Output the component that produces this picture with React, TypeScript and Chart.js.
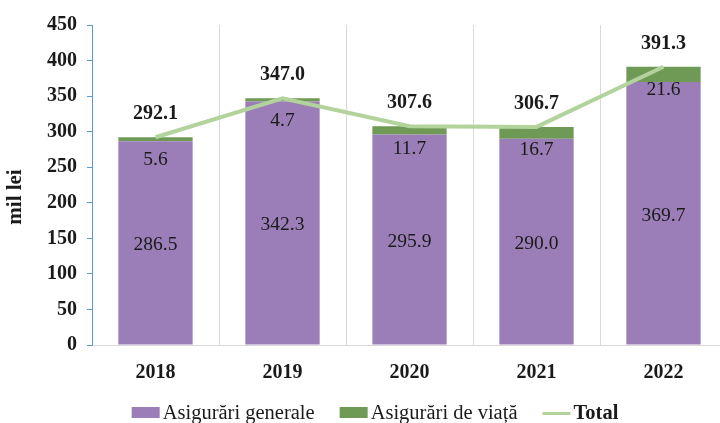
import React, { useEffect, useRef } from "react";
import { Chart, registerables } from "chart.js";

Chart.register(...registerables);

const categories = ["2018", "2019", "2020", "2021", "2022"];
const generalValues = [286.5, 342.3, 295.9, 290.0, 369.7];
const lifeValues = [5.6, 4.7, 11.7, 16.7, 21.6];
const totalValues = [292.1, 347.0, 307.6, 306.7, 391.3];
const seriesNames = ["Asigurări generale", "Asigurări de viață", "Total"];
const yAxisTitle = "mil lei";
const yMax = 450;
const yStep = 50;

const PURPLE = "#9b7eb7";
const GREEN = "#6e9a56";
const LINE = "#b2d39c";
const SERIF = "'Liberation Serif', 'Times New Roman', serif";

const labelsPlugin = {
  id: "valueLabels",
  afterDatasetsDraw(chart: any) {
    const ctx = chart.ctx;
    const y = chart.scales.y;
    const meta = chart.getDatasetMeta(0);
    ctx.save();
    ctx.textAlign = "center";
    ctx.textBaseline = "middle";
    ctx.fillStyle = "#1a1a1a";
    meta.data.forEach((bar: any, i: number) => {
      const x = bar.x;
      const y0 = y.getPixelForValue(0);
      const yg = y.getPixelForValue(generalValues[i]);
      const yt = y.getPixelForValue(generalValues[i] + lifeValues[i]);
      ctx.font = `19.5px ${SERIF}`;
      ctx.fillText(generalValues[i].toFixed(1), x, (y0 + yg) / 2 + 2);
      ctx.fillText(lifeValues[i].toFixed(1), x, yt + 23);
      ctx.font = `bold 20px ${SERIF}`;
      ctx.fillText(totalValues[i].toFixed(1), x, y.getPixelForValue(totalValues[i]) - 23);
    });
    ctx.restore();
  },
};

const legendPlugin = {
  id: "customLegend",
  afterDraw(chart: any) {
    const ctx = chart.ctx;
    ctx.save();
    // y axis title
    ctx.translate(16, 197);
    ctx.rotate(-Math.PI / 2);
    ctx.font = `bold 21px ${SERIF}`;
    ctx.fillStyle = "#1a1a1a";
    ctx.textAlign = "center";
    ctx.textBaseline = "middle";
    ctx.fillText(yAxisTitle, 0, 0);
    ctx.restore();

    ctx.save();
    const items = [
      { text: seriesNames[0], kind: "box", color: PURPLE, bold: false },
      { text: seriesNames[1], kind: "box", color: GREEN, bold: false },
      { text: seriesNames[2], kind: "line", color: LINE, bold: true },
    ];
    const markerW = 28;
    const markerGap = 3;
    const itemGap = 25;
    const fs = 20.5;
    const widths = items.map((it) => {
      ctx.font = `${it.bold ? "bold " : ""}${fs}px ${SERIF}`;
      return ctx.measureText(it.text).width;
    });
    const total =
      widths.reduce((a, b) => a + b, 0) +
      items.length * (markerW + markerGap) +
      (items.length - 1) * itemGap;
    let x = 375 - total / 2;
    const baseline = 419;
    items.forEach((it, i) => {
      if (it.kind === "box") {
        ctx.fillStyle = it.color;
        ctx.fillRect(x, 407, markerW, 11);
      } else {
        ctx.strokeStyle = it.color;
        ctx.lineWidth = 3;
        ctx.beginPath();
        ctx.moveTo(x, 413.5);
        ctx.lineTo(x + markerW, 413.5);
        ctx.stroke();
      }
      x += markerW + markerGap;
      ctx.font = `${it.bold ? "bold " : ""}${fs}px ${SERIF}`;
      ctx.fillStyle = "#1a1a1a";
      ctx.textAlign = "left";
      ctx.textBaseline = "alphabetic";
      ctx.fillText(it.text, x, baseline);
      x += widths[i] + itemGap;
    });
    ctx.restore();
  },
};

export default function App() {
  const canvasRef = useRef<HTMLCanvasElement | null>(null);

  useEffect(() => {
    if (!canvasRef.current) return;
    const chart = new Chart(canvasRef.current, {
      type: "bar",
      data: {
        labels: categories,
        datasets: [
          {
            type: "bar",
            label: seriesNames[0],
            data: generalValues,
            backgroundColor: PURPLE,
            stack: "s",
            order: 1,
            barPercentage: 0.585,
            categoryPercentage: 1,
          },
          {
            type: "bar",
            label: seriesNames[1],
            data: lifeValues,
            backgroundColor: GREEN,
            stack: "s",
            order: 1,
            barPercentage: 0.585,
            categoryPercentage: 1,
          },
          {
            type: "line",
            label: seriesNames[2],
            data: totalValues,
            borderColor: LINE,
            borderWidth: 4,
            pointRadius: 0,
            tension: 0,
            stack: "line",
            order: 0,
          } as any,
        ],
      },
      options: {
        animation: false,
        responsive: false,
        maintainAspectRatio: false,
        layout: { padding: { top: 25, bottom: 38, right: 13, left: 0 } },
        plugins: {
          legend: { display: false },
          tooltip: { enabled: false },
          title: { display: false },
        },
        scales: {
          x: {
            stacked: true,
            offset: true,
            grid: {
              display: true,
              offset: true,
              drawTicks: false,
              color: "#d9d9d9",
              lineWidth: 1,
            },
            border: { display: true, color: "#d9d9d9" },
            ticks: {
              padding: 16,
              color: "#1a1a1a",
              font: { family: SERIF, size: 20, weight: "bold" },
            },
            afterFit: (s: any) => {
              s.height = 40;
            },
          },
          y: {
            stacked: true,
            min: 0,
            max: yMax,
            ticks: {
              stepSize: yStep,
              padding: 10,
              color: "#1a1a1a",
              font: { family: SERIF, size: 20, weight: "bold" },
            },
            grid: {
              display: true,
              drawOnChartArea: false,
              drawTicks: true,
              tickLength: 5,
              color: "#5b9bd5",
            },
            border: { display: true, color: "#5b9bd5", width: 1 },
            title: { display: false },
            afterFit: (s: any) => {
              s.width = 92;
            },
          },
        },
      },
      plugins: [labelsPlugin, legendPlugin],
    });
    return () => chart.destroy();
  }, []);

  return (
    <div
      style={{
        position: "absolute",
        left: 0,
        top: 0,
        width: 720,
        height: 423,
        overflow: "hidden",
        background: "#ffffff",
      }}
    >
      <canvas ref={canvasRef} width={740} height={423} style={{ display: "block" }} />
    </div>
  );
}
